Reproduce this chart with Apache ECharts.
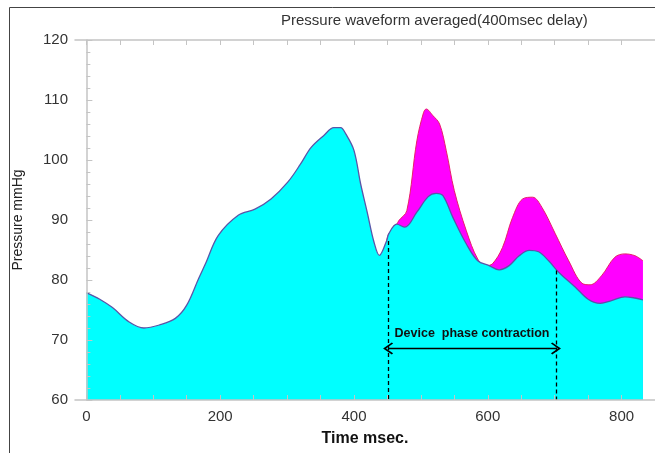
<!DOCTYPE html>
<html>
<head>
<meta charset="utf-8">
<script src="https://cdn.jsdelivr.net/npm/echarts@6/dist/echarts.min.js"></script>
<style>html,body{margin:0;padding:0;background:#fff;}#c{width:655px;height:453px;}</style>
</head>
<body>
<div id="c"></div>
<script>
// Data (time in msec, pressure in mmHg)
const cyanTime = [0,20,39,64,86,109,133,150,168,178,197,227,252,276,301,320,336,355,370,380,388,400,410,420,430,438,449,452,464,476,494,511,523,533,548,568,585,602,617,632,647,662,676,691,706,731,750,768,785,805,820,832];
const cyanPressure = [77.9,76.8,75.4,73.0,72.0,72.5,73.6,75.8,80.3,82.7,87.4,90.8,91.8,93.5,96.3,99.3,102.1,104.1,105.4,105.4,104.3,101.6,96.0,91.2,86.3,84.1,86.6,87.7,89.3,88.8,91.3,93.9,94.45,94.05,90.4,86.0,83.2,82.4,81.7,82.4,84.05,84.95,84.7,83.2,81.3,78.8,76.8,76.1,76.55,77.2,77.0,76.7];
const magentaTime = [449,452,464,467,479,494,504,508,518,528,538,550,568,585,597,607,622,637,652,667,681,701,721,741,753,770,790,805,820,832];
const magentaPressure = [86.6,87.7,89.3,89.9,91.55,103.2,107.9,108.5,107.4,106.0,101.55,94.9,88.2,83.5,82.4,82.7,85.4,90.4,93.5,93.8,92.1,87.7,83.2,79.45,79.2,80.7,83.8,84.35,84.05,83.2];
const xTickValues = [0,50,100,150,200,250,300,350,400,450,500,550,600,650,700,750,800,850];
const xLabelValues = [0,200,400,600,800];
const phaseStart = 451, phaseEnd = 702;
const phaseStartTop = 86.5, phaseEndTop = 81.6, arrowLevel = 68.6;
const phaseText = 'Device  phase contraction';

const pair = (xs, ys) => xs.map((x, i) => [x, ys[i]]);
const axisGray = '#c4c4c4';
const font = 'Liberation Sans';
const chevron = 'path://M5,0 L10,7 L9,8 L5,2.4 L1,8 L0,7 Z';

const chart = echarts.init(document.getElementById('c'), null, {renderer: 'canvas'});
chart.setOption({
  animation: false,
  backgroundColor: '#fff',
  title: {
    text: 'Pressure waveform averaged(400msec delay)',
    left: 276, top: 8,
    textStyle: {fontFamily: font, fontSize: 15, fontWeight: 'normal', color: '#333'}
  },
  graphic: [{
    type: 'rect', silent: true, z: 100,
    shape: {x: 9.5, y: 7.5, width: 720, height: 520},
    style: {fill: 'none', stroke: '#444', lineWidth: 1}
  }],
  grid: {left: 75, top: 40, width: 585, height: 360},
  xAxis: [{
    type: 'value', min: -17, max: 850, position: 'bottom', z: 10,
    name: 'Time msec.', nameLocation: 'middle', nameGap: 31,
    nameTextStyle: {fontFamily: font, fontSize: 16, fontWeight: 'bold', color: '#111'},
    axisLine: {show: true, lineStyle: {color: axisGray, width: 1.5}},
    axisTick: {show: true, inside: true, length: 5, customValues: xTickValues, lineStyle: {color: axisGray}},
    axisLabel: {customValues: xLabelValues, fontFamily: font, fontSize: 15, color: '#333', margin: 9},
    splitLine: {show: false}
  }, {
    type: 'value', min: -17, max: 850, position: 'top', z: 10,
    axisLine: {show: true, lineStyle: {color: axisGray, width: 1.5}},
    axisTick: {show: true, inside: true, length: 5, customValues: xTickValues, lineStyle: {color: axisGray}},
    axisLabel: {show: false},
    splitLine: {show: false}
  }],
  yAxis: [{
    type: 'value', min: 60, max: 120, interval: 10, z: 10,
    name: 'Pressure mmHg', nameLocation: 'middle', nameGap: 50, nameRotate: 90,
    nameTextStyle: {fontFamily: font, fontSize: 14, color: '#222'},
    axisLine: {show: true, lineStyle: {color: axisGray, width: 1.5}},
    axisTick: {show: true, inside: true, length: 6, lineStyle: {color: axisGray}},
    minorTick: {show: true, splitNumber: 5, length: 4, lineStyle: {color: axisGray}},
    axisLabel: {fontFamily: font, fontSize: 15, color: '#333', margin: 7},
    splitLine: {show: false}
  }],
  series: [{
    type: 'line', name: 'device', data: pair(magentaTime, magentaPressure),
    smooth: 0.35, symbol: 'none',
    lineStyle: {color: '#e8206a', width: 1},
    areaStyle: {color: '#ff00ff', opacity: 1, origin: 'start'},
    z: 2
  }, {
    type: 'line', name: 'baseline', data: pair(cyanTime, cyanPressure),
    smooth: 0.35, symbol: 'none',
    lineStyle: {color: '#5a55a8', width: 1.3},
    areaStyle: {color: '#00ffff', opacity: 1, origin: 'start'},
    z: 3,
    markLine: {
      silent: true, symbol: ['none', 'none'],
      label: {show: false},
      lineStyle: {color: '#000', type: [4, 3], width: 1.3},
      data: [
        [{coord: [phaseStart, phaseStartTop]}, {coord: [phaseStart, 60]}],
        [{coord: [phaseEnd, phaseEndTop]}, {coord: [phaseEnd, 60]}],
        [{
          coord: [phaseStart, arrowLevel],
          symbol: chevron, symbolSize: [12, 10],
          lineStyle: {type: 'solid', width: 1.3, color: '#000'},
          label: {show: true, position: 'middle', formatter: phaseText, distance: 8,
                  fontFamily: font, fontSize: 12.5, fontWeight: 'bold', color: '#111'}
        }, {
          coord: [phaseEnd, arrowLevel],
          symbol: chevron, symbolSize: [12, 10]
        }]
      ]
    }
  }]
});
</script>
</body>
</html>
